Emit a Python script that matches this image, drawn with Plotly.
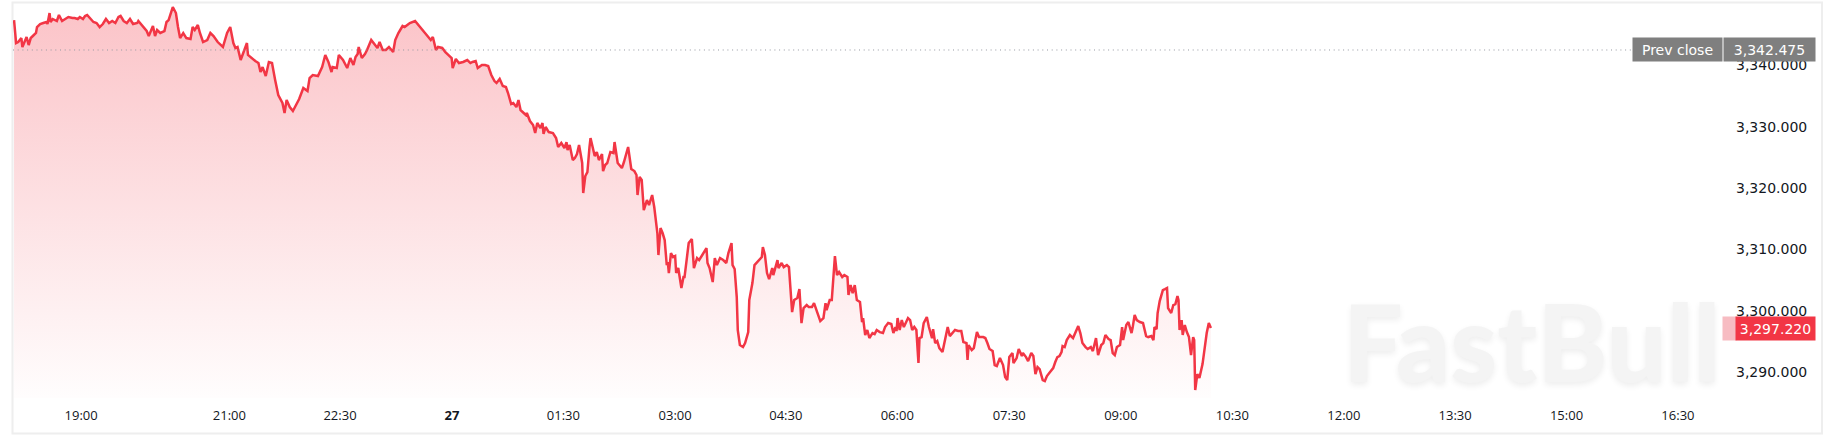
import plotly.graph_objects as go

# ---------------- data ----------------
bar_index = [
    0, 2, 4, 7, 8, 10, 12, 14, 16, 18,
    21, 22, 25, 28, 31, 32, 34, 35, 37, 41,
    43, 46, 49, 52, 56, 58, 61, 63, 66, 68,
    70, 73, 76, 79, 82, 85, 88, 91, 94, 97,
    100, 102, 105, 108, 111, 114, 118, 119, 123, 127,
    129, 133, 135, 137, 140, 144, 146, 148, 152, 155,
    157, 159, 162, 165, 169, 171, 173, 176, 178, 181,
    185, 188, 191, 195, 200, 204, 207, 210, 212, 214,
    217, 220, 223, 224, 227, 231, 234, 236, 238, 241,
    244, 247, 250, 253, 257, 259, 261, 264, 267, 270,
    273, 277, 281, 283, 286, 291, 295, 298, 301, 304,
    305, 309, 311, 315, 319, 322, 325, 327, 329, 330,
    333, 336, 338, 342, 344, 348, 350, 353, 356, 359,
    363, 365, 368, 372, 374, 379, 384, 387, 391, 395,
    399, 401, 404, 406, 410, 413, 416, 419, 420, 423,
    426, 430, 434, 437, 439, 442, 444, 448, 451, 454,
    457, 460, 462, 465, 468, 471, 473, 476, 478, 481,
    483, 485, 487, 490, 491, 494, 497, 499, 501, 504,
    506, 507, 509, 512, 516, 519, 521, 524, 527, 529,
    530, 532, 535, 537, 539, 541, 544, 545, 547, 549,
    551, 552, 554, 556, 558, 560, 563, 564, 566, 568,
    571, 574, 575, 578, 582, 584, 588, 591, 594, 596,
    597, 599, 601, 603, 606, 608, 611, 613, 616, 617,
    619, 621, 623, 625, 626, 627, 629, 631, 633, 634,
    636, 639, 641, 642, 644, 646, 649, 651, 654, 656,
    659, 661, 663, 664, 666, 669, 671, 673, 676, 679,
    682, 684, 687, 688, 690, 692, 693, 695, 698, 700,
    703, 704, 707, 709, 711, 713, 716, 717, 719, 721,
    723, 726, 727, 731, 732, 735, 737, 740, 742, 745,
    747, 750, 752, 754, 756, 759, 761, 764, 766, 769,
    772, 775, 777, 778, 781, 783, 786, 788, 790, 793,
    795, 798, 799, 801, 803, 805, 807, 810, 812, 813,
    815, 817, 819, 822, 824, 826, 829, 832, 834, 837,
    840, 842, 844, 845, 846, 848, 850, 852, 854, 856,
    858, 860, 862, 864, 866, 867, 869, 871, 874, 876,
    879, 880, 882, 884, 886, 889, 890, 893, 894, 896,
    899, 901, 904, 907, 909, 912, 913, 914, 917, 919,
    922, 924, 928, 930, 932, 934, 937, 939, 941, 944,
    947, 949, 951, 953, 956, 957, 960, 962, 965, 966,
    969, 971, 974, 976, 978, 980, 982, 985, 987, 989,
    992, 995, 997, 999, 1001, 1003, 1004, 1006, 1008, 1011,
    1014, 1016, 1019, 1021, 1023, 1026, 1028, 1031, 1033, 1036,
    1038, 1041, 1043, 1045, 1048, 1050, 1052, 1054, 1056, 1059,
    1061, 1062, 1065, 1067, 1070, 1071, 1073, 1075, 1078, 1081,
    1084, 1086, 1089, 1091, 1092, 1094, 1095, 1097, 1100, 1102,
    1104, 1105, 1108, 1110, 1112, 1114, 1115, 1116, 1118, 1119,
    1121, 1123, 1125, 1127, 1129, 1130, 1131, 1133, 1135, 1138,
    1140, 1142, 1144, 1146,
]

price = [
    3347.35, 3343.61, 3343.77, 3344.42, 3342.96, 3343.77, 3344.59, 3343.28, 3344.42, 3344.75,
    3345.24, 3346.21, 3346.70, 3346.87, 3347.03, 3346.70, 3348.49, 3347.03, 3347.52, 3347.19,
    3348.17, 3347.19, 3347.52, 3347.84, 3347.68, 3347.68, 3347.52, 3347.84, 3347.52, 3348.01,
    3348.17, 3347.68, 3347.03, 3346.87, 3346.21, 3346.70, 3347.52, 3346.87, 3347.19, 3346.87,
    3347.84, 3348.01, 3347.19, 3346.87, 3347.52, 3346.70, 3346.87, 3347.19, 3346.38, 3345.56,
    3344.75, 3346.38, 3344.75, 3345.73, 3345.24, 3345.56, 3347.03, 3347.35, 3349.47, 3348.49,
    3346.21, 3344.42, 3345.24, 3344.42, 3344.26, 3346.21, 3345.73, 3346.54, 3345.24, 3343.77,
    3344.10, 3345.24, 3344.75, 3343.77, 3342.96, 3345.24, 3346.21, 3343.61, 3342.80, 3342.96,
    3340.84, 3342.14, 3343.61, 3341.66, 3341.17, 3340.68, 3340.35, 3338.89, 3339.70, 3338.24,
    3340.52, 3340.35, 3337.59, 3335.14, 3333.84, 3332.21, 3334.33, 3333.19, 3332.54, 3333.52,
    3334.49, 3336.28, 3335.80, 3337.91, 3338.40, 3338.24, 3339.70, 3341.66, 3340.52, 3338.89,
    3339.70, 3339.54, 3341.66, 3340.84, 3339.54, 3341.17, 3340.03, 3341.33, 3341.82, 3342.96,
    3341.17, 3341.82, 3342.47, 3344.10, 3343.61, 3342.80, 3343.77, 3342.47, 3342.47, 3342.96,
    3342.14, 3344.10, 3345.24, 3346.38, 3346.21, 3346.87, 3347.19, 3346.54, 3345.73, 3344.91,
    3344.10, 3344.59, 3342.47, 3342.96, 3342.80, 3342.14, 3341.66, 3341.17, 3339.54, 3341.01,
    3340.35, 3340.52, 3340.84, 3340.35, 3340.52, 3340.68, 3339.54, 3340.03, 3340.03, 3339.87,
    3338.40, 3337.42, 3337.10, 3337.75, 3336.61, 3336.45, 3335.47, 3333.68, 3333.84, 3333.19,
    3334.33, 3332.70, 3332.38, 3331.89, 3332.21, 3330.91, 3330.26, 3328.96, 3330.59, 3329.77,
    3330.59, 3328.80, 3329.94, 3329.12, 3328.96, 3328.14, 3326.68, 3327.33, 3326.52, 3327.49,
    3326.19, 3327.01, 3324.56, 3324.89, 3325.54, 3327.01, 3324.08, 3319.19, 3321.96, 3322.61,
    3326.68, 3328.14, 3326.68, 3325.21, 3325.87, 3324.56, 3325.54, 3322.77, 3323.75, 3324.08,
    3325.87, 3325.70, 3327.49, 3324.08, 3323.26, 3324.24, 3326.68, 3323.10, 3322.77, 3322.12,
    3318.87, 3321.80, 3321.31, 3316.42, 3318.05, 3317.24, 3318.87, 3316.91, 3312.68, 3309.10,
    3313.49, 3312.68, 3311.54, 3307.47, 3307.96, 3306.17, 3309.42, 3308.77, 3308.94, 3306.17,
    3306.98, 3303.73, 3305.52, 3305.52, 3308.28, 3311.05, 3311.70, 3306.98, 3308.61, 3308.28,
    3309.10, 3309.59, 3310.24, 3307.80, 3306.98, 3304.70, 3308.61, 3307.47, 3308.61, 3308.28,
    3307.80, 3309.42, 3311.05, 3307.47, 3306.82, 3302.26, 3296.89, 3294.45, 3294.12, 3294.77,
    3296.56, 3301.77, 3304.54, 3307.47, 3307.80, 3308.28, 3308.77, 3310.40, 3309.10, 3306.17,
    3305.19, 3306.98, 3305.84, 3308.28, 3306.98, 3307.80, 3307.14, 3307.47, 3307.14, 3299.82,
    3301.77, 3302.10, 3303.56, 3298.03, 3300.47, 3300.96, 3300.63, 3300.63, 3301.28, 3299.82,
    3298.35, 3298.84, 3301.28, 3300.15, 3301.77, 3301.77, 3308.94, 3305.84, 3306.33, 3305.52,
    3305.84, 3305.52, 3302.59, 3304.21, 3302.91, 3304.21, 3301.77, 3301.45, 3298.19, 3298.84,
    3296.08, 3296.89, 3295.59, 3296.40, 3296.24, 3296.89, 3296.56, 3296.40, 3297.38, 3298.03,
    3297.87, 3296.40, 3297.38, 3296.73, 3298.84, 3296.89, 3298.52, 3297.38, 3298.19, 3298.84,
    3298.52, 3296.89, 3297.38, 3296.89, 3291.52, 3295.59, 3295.75, 3298.03, 3299.01, 3297.38,
    3295.59, 3297.05, 3294.77, 3295.10, 3293.96, 3293.31, 3294.12, 3296.24, 3297.38, 3295.91,
    3296.40, 3296.89, 3296.73, 3296.73, 3294.94, 3294.77, 3292.01, 3294.45, 3293.63, 3293.96,
    3296.56, 3295.75, 3295.75, 3295.59, 3294.77, 3293.80, 3293.47, 3291.19, 3291.03, 3292.33,
    3291.19, 3289.24, 3288.75, 3292.49, 3293.15, 3291.52, 3292.33, 3293.80, 3292.66, 3293.15,
    3292.49, 3291.84, 3293.15, 3292.66, 3289.73, 3290.87, 3290.54, 3288.75, 3288.59, 3289.40,
    3290.05, 3290.70, 3291.68, 3292.49, 3292.66, 3293.31, 3294.28, 3294.12, 3295.26, 3296.08,
    3295.59, 3296.40, 3297.54, 3296.40, 3294.77, 3294.12, 3293.80, 3294.12, 3293.47, 3295.59,
    3292.82, 3294.45, 3294.77, 3296.08, 3295.42, 3295.26, 3293.15, 3292.82, 3294.12, 3294.45,
    3297.38, 3295.26, 3297.70, 3298.19, 3296.40, 3297.21, 3299.33, 3298.52, 3298.19, 3298.03,
    3295.91, 3295.75, 3295.91, 3295.26, 3297.38, 3297.05, 3299.66, 3301.61, 3303.40, 3303.56,
    3303.73, 3300.47, 3299.66, 3300.96, 3301.12, 3302.42, 3301.77, 3296.89, 3298.52, 3296.08,
    3297.70, 3296.56, 3295.75, 3292.82, 3295.75, 3295.26, 3287.12, 3289.73, 3289.08, 3291.35,
    3294.28, 3296.40, 3298.03, 3297.22,
]

time_tick_bars = [64.2, 206.2, 312.1, 419.3, 526.0, 633.0, 739.0, 845.7,
                  952.9, 1059.7, 1166.6, 1273.3, 1379.9, 1486.5, 1593.2]
time_tick_labels = ["19:00", "21:00", "22:30", "<b>27</b>", "01:30", "03:00", "04:30", "06:00",
                    "07:30", "09:00", "10:30", "12:00", "13:30", "15:00", "16:30"]
price_ticks = [3290, 3300, 3310, 3320, 3330, 3340]
prev_close = 3342.475
last_price = price[-1]

# ---------------- layout constants ----------------
W, H = 1835, 441
L, R, T, B = 13, 113, 4, 43
PW, PH = W - L - R, H - T - B
x_range = [-1.0, 1635.4]
y_range = [3285.83, 3349.96]

RED = "#F23645"
GREY_LABEL = "#7f7f7f"
TEXT = "#131722"


def px_x(p):
    return (p - L) / PW


def px_y(p):
    return (H - B - p) / PH


fig = go.Figure()

fig.add_trace(go.Scatter(
    x=bar_index, y=price, mode="lines",
    line=dict(color=RED, width=2.5),
    fill="tozeroy",
    fillgradient=dict(
        type="vertical", start=y_range[0], stop=y_range[1],
        colorscale=[[0, "rgba(242,54,69,0.01)"], [1, "rgba(242,54,69,0.30)"]],
    ),
    hoverinfo="skip", showlegend=False,
))

shapes = [
    # outer frame
    dict(type="rect", xref="paper", yref="paper",
         x0=px_x(12.5), x1=px_x(1822), y0=px_y(433.5), y1=px_y(2.5),
         line=dict(color="#eeeeee", width=2), layer="below"),
    # previous close dotted line
    dict(type="line", xref="paper", yref="y",
         x0=0, x1=px_x(1631), y0=prev_close, y1=prev_close,
         line=dict(color="#9598a1", width=1, dash="1px,3.7px"), layer="above"),
]

annotations = [
    # watermark
    dict(text="FastBull", xref="paper", yref="paper",
         x=px_x(1532), y=px_y(341), xanchor="center", yanchor="middle",
         showarrow=False,
         font=dict(family="Lato", size=106, color="#f4f4f4", weight=900,
                   shadow="0px 3px 6px rgba(0,0,0,0.07)")),
    # prev close labels
    dict(text="Prev close", xref="paper", yref="y",
         x=px_x(1632), y=prev_close, xanchor="left", yanchor="middle",
         showarrow=False, width=89, height=23, borderpad=0, bgcolor=GREY_LABEL,
         font=dict(family="DejaVu Sans", size=14, color="white")),
    dict(text="{:,.3f}".format(prev_close), xref="paper", yref="y",
         x=px_x(1723), y=prev_close, xanchor="left", yanchor="middle",
         showarrow=False, width=91, height=23, borderpad=0, bgcolor=GREY_LABEL,
         font=dict(family="DejaVu Sans", size=14, color="white")),
    # last price label
    dict(text=" ", xref="paper", yref="y",
         x=px_x(1722), y=last_price, xanchor="left", yanchor="middle",
         showarrow=False, width=13, height=23, borderpad=0, bgcolor="#f7bcc2",
         font=dict(family="DejaVu Sans", size=14, color="white")),
    dict(text="{:,.3f}".format(last_price), xref="paper", yref="y",
         x=px_x(1735), y=last_price, xanchor="left", yanchor="middle",
         showarrow=False, width=79, height=23, borderpad=0, bgcolor=RED,
         font=dict(family="DejaVu Sans", size=14, color="white")),
]

fig.update_layout(
    width=W, height=H,
    margin=dict(l=L, r=R, t=T, b=B, pad=0),
    paper_bgcolor="white", plot_bgcolor="white",
    showlegend=False, hovermode=False,
    shapes=shapes, annotations=annotations,
    xaxis=dict(
        range=x_range, showgrid=False, zeroline=False, showline=False,
        tickmode="array", tickvals=time_tick_bars, ticktext=time_tick_labels,
        ticks="", ticklabelstandoff=8,
        tickfont=dict(family="Open Sans", size=13, color=TEXT),
        fixedrange=True,
    ),
    yaxis=dict(
        range=y_range, side="right", showgrid=False, zeroline=False, showline=False,
        tickmode="array", tickvals=price_ticks, tickformat=",.3f",
        ticks="", ticklabelstandoff=13,
        tickfont=dict(family="DejaVu Sans", size=14, color=TEXT),
        fixedrange=True,
    ),
)

fig.write_html(
    "out.html",
    config={"displayModeBar": False, "staticPlot": True},
    post_script="document.body.style.margin='0px';document.body.style.overflow='hidden';",
)
